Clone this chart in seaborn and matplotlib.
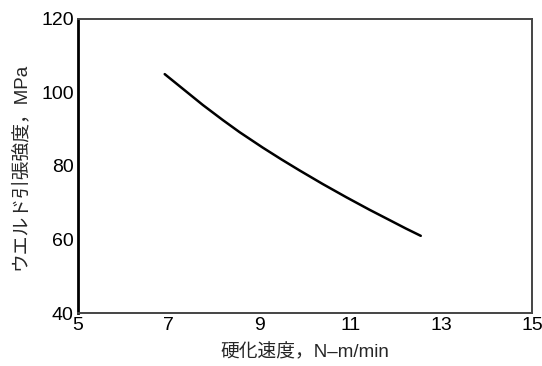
import matplotlib
matplotlib.use("Agg")
import matplotlib.pyplot as plt
import seaborn as sns
import pandas as pd

cure_speed = [6.91, 7.31, 7.75, 8.19, 8.56, 9.07, 9.48, 9.88, 10.39, 10.91, 11.42, 11.86, 12.22, 12.55]
weld_strength = [105.0, 101.0, 96.6, 92.5, 89.2, 85.0, 81.8, 78.8, 75.1, 71.5, 68.1, 65.3, 63.0, 61.0]
x_ticks = [5, 7, 9, 11, 13, 15]
y_ticks = [40, 60, 80, 100, 120]

sns.set_theme(style="white")
plt.rcParams['font.family'] = ['Liberation Sans', 'Noto Sans CJK JP', 'DejaVu Sans']

df = pd.DataFrame({"x": cure_speed, "y": weld_strength})

fig = plt.figure(figsize=(5.42, 3.66), dpi=100)
ax = fig.add_axes([78 / 542, 53 / 366, 454 / 542, 294 / 366])
sns.lineplot(data=df, x="x", y="y", ax=ax, color="black", linewidth=1.8)

ax.set_xlim(5, 15)
ax.set_ylim(40, 120)
ax.set_xticks(x_ticks)
ax.set_yticks(y_ticks)
ax.tick_params(axis="both", direction="in", length=4, width=1, colors="#333333",
               labelcolor="black", labelsize=14, pad=3)
ax.set_xlabel("硬化速度，N–m/min", fontsize=13.5,
              family=['Liberation Sans', 'Noto Sans CJK JP'], labelpad=7)
ax.set_ylabel("ウエルド引張強度，MPa", fontsize=13.5,
              family=['Liberation Sans', 'Noto Sans CJK JP'], labelpad=9)
for side, sp in ax.spines.items():
    sp.set_visible(True)
    sp.set_color("#444444")
    sp.set_linewidth(1.4)
ax.spines["left"].set_color("black")
ax.spines["left"].set_linewidth(2)
ax.grid(False)

fig.savefig("out.png", dpi=100)
